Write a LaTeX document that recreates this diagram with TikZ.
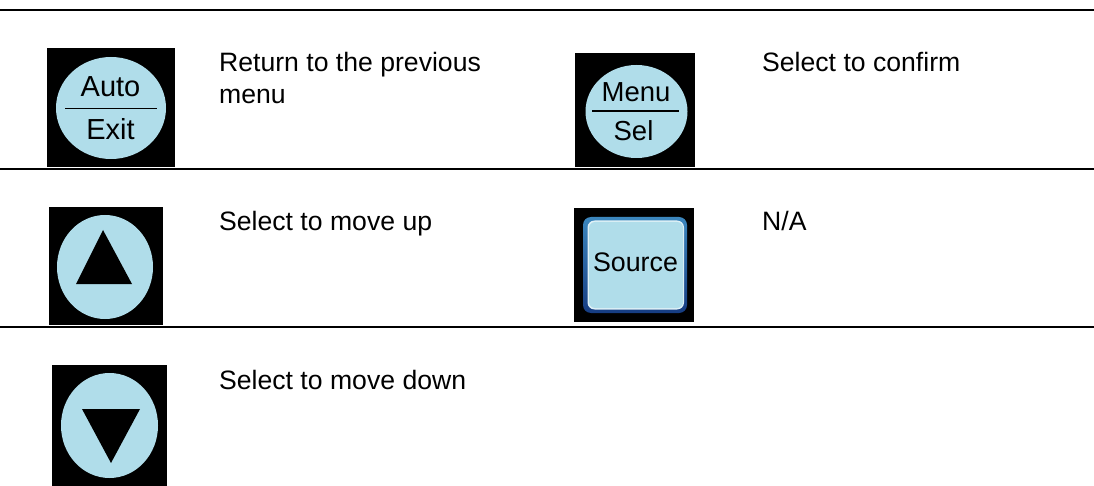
\documentclass[tikz,border=0pt]{standalone}
\usepackage{fontspec}
\setmainfont{Liberation Sans}
\definecolor{keyblue}{RGB}{176,221,234}
\definecolor{rimtop}{RGB}{60,135,190}
\definecolor{rimbot}{RGB}{22,60,130}
\tikzset{
  x=1pt,y=-1pt,
  rulel/.style={line width=2.2pt,black},
  blk/.style={fill=black,draw=none},
  key/.style={fill=keyblue,draw=none},
  desc/.style={anchor=base west,inner sep=0pt,font=\fontsize{26.6pt}{33pt}\selectfont,text=black},
  keytxt/.style={anchor=base,inner sep=0pt,font=\fontsize{29pt}{33pt}\selectfont,text=black},
}
\begin{document}
\begin{tikzpicture}
\useasboundingbox (0,0) rectangle (1094,486);
\coordinate (r1a) at (0,10); \coordinate (r1b) at (1094,10);
\coordinate (r2a) at (0,169); \coordinate (r2b) at (1094,169);
\coordinate (r3a) at (0,327); \coordinate (r3b) at (1094,327);
% Auto/Exit
\fill[blk] (47,48) rectangle (175,167);
\fill[key] (111,108) ellipse [x radius=55,y radius=51];
\draw[line width=1.6pt] (65,108.7) -- (157,108.7);
\node[keytxt] (auto) at (110.5,97) {Auto};
\node[keytxt] (exit) at (110.5,140) {Exit};
% Menu/Sel
\fill[blk] (575,53) rectangle (695,167);
\fill[key] (636.5,111.5) ellipse [x radius=51,y radius=46.5];
\draw[line width=1.6pt] (592,111.3) -- (678.5,111.3);
\node[keytxt,font=\fontsize{27.5pt}{33pt}\selectfont] (menu) at (636,102) {Menu};
\node[keytxt,font=\fontsize{27.5pt}{33pt}\selectfont] (sel) at (633.5,141) {Sel};
% Up
\fill[blk] (49,207) rectangle (163,325);
\fill[key] (105,267) ellipse [x radius=48,y radius=52];
\fill[black] (103,230) -- (132,284) -- (76,284) -- cycle;
% Source
\fill[blk] (574,208) rectangle (694,322);
\shade[rounded corners=8pt,top color=rimtop,bottom color=rimbot] (583,217) rectangle (687,313);
\fill[rounded corners=7pt,fill=white!60!keyblue] (587.5,220.5) rectangle (684,309.5);
\fill[rounded corners=6pt,key] (589,222) rectangle (683,308);
\node[keytxt,font=\fontsize{26.8pt}{33pt}\selectfont] (source) at (635.5,272) {Source};
% Down
\fill[blk] (52,365) rectangle (167,486);
\fill[key] (109.5,425.5) ellipse [x radius=48.5,y radius=52.5];
\fill[black] (82,409) -- (140,409) -- (111,463) -- cycle;
% rules
\draw[rulel] (r1a) -- (r1b);
\draw[rulel] (r2a) -- (r2b);
\draw[rulel] (r3a) -- (r3b);
% text
\node[desc] (t1) at (219,71.5) {Return to the previous};
\node[desc] (t1b) at (219,103.5) {menu};
\node[desc] (t2) at (762,71.5) {Select to confirm};
\node[desc] (t3) at (219,230.5) {Select to move up};
\node[desc] (t4) at (762,230.5) {N/A};
\node[desc] (t5) at (219,389.5) {Select to move down};
\end{tikzpicture}
\end{document}
